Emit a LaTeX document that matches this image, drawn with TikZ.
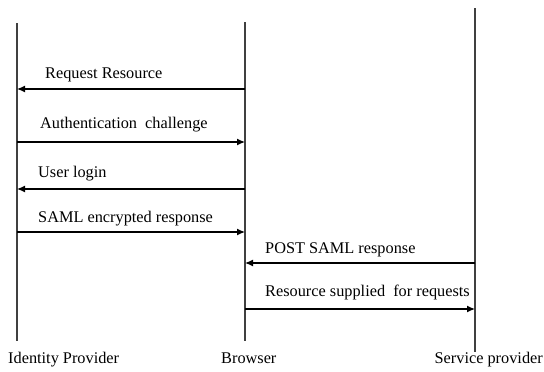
\documentclass[tikz,border=0pt]{standalone}
\usepackage{fontspec}
\setmainfont{Liberation Serif}
\usetikzlibrary{arrows.meta}
\begin{document}
\begin{tikzpicture}[x=1pt, y=-1pt,
    life/.style={line width=1.3pt, color=black!75},
    msg/.style={line width=1.2pt, -{Latex[length=8pt,width=7pt]}},
    lbl/.style={anchor=base west, inner sep=0pt, font=\fontsize{16.3}{19}\selectfont}]
      \useasboundingbox (0,0) rectangle (544,372);

      % lifelines
      \coordinate (idp top) at (17,23);
      \coordinate (idp bot) at (17,341);
      \coordinate (br top) at (245,22);
      \coordinate (br bot) at (245,341);
      \coordinate (sp top) at (475,8);
      \coordinate (sp bot) at (475,352);
      \draw[life] (idp top) -- (idp bot);
      \draw[life] (br top) -- (br bot);
      \draw[life] (sp top) -- (sp bot);

      % message points
      \foreach \n/\y in {1/89,2/142,3/189,4/232,5/263,6/309} {
          \coordinate (idp\n) at (17,\y);
          \coordinate (br\n) at (245,\y);
          \coordinate (sp\n) at (475,\y);
        }

      \draw[msg] (br1) -- (idp1);
      \draw[msg] (idp2) -- (br2);
      \draw[msg] (br3) -- (idp3);
      \draw[msg] (idp4) -- (br4);
      \draw[msg] (sp5) -- (br5);
      \draw[msg] (br6) -- (sp6);

      \node[lbl] (req) at (45,78) {Request Resource};
      \node[lbl] (auth) at (40,128) {Authentication\ \ challenge};
      \node[lbl] (login) at (38,177) {User login};
      \node[lbl] (saml) at (38,222) {SAML encrypted response};
      \node[lbl] (post) at (265,253) {POST SAML response};
      \node[lbl] (supply) at (265,296) {Resource supplied\ \ for requests};

      % participants
      \node[lbl] (idp) at (8,363) {Identity Provider};
      \node[lbl] (browser) at (221,363) {Browser};
      \node[lbl, anchor=base east] (sp) at (543,363) {Service provider};
    \end{tikzpicture}
\end{document}
